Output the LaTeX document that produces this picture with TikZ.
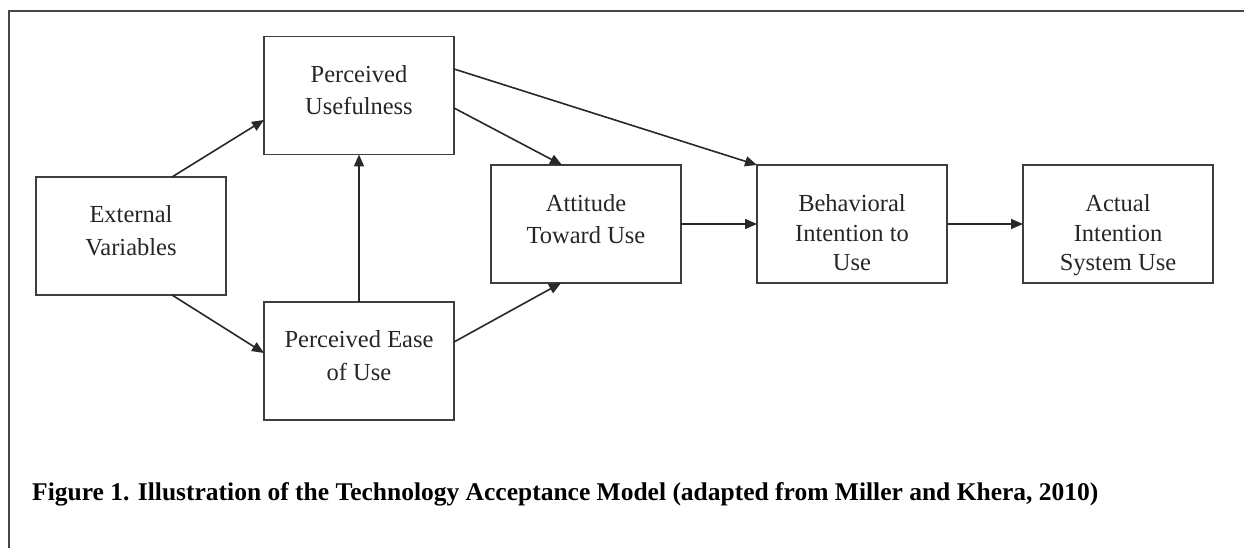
\documentclass[tikz,border=0pt]{standalone}
\usepackage{fontspec}
\setmainfont{Liberation Serif}
\usetikzlibrary{arrows.meta}
\definecolor{boxcol}{RGB}{62,62,62}
\definecolor{arrcol}{RGB}{40,40,40}
\definecolor{txtcol}{RGB}{38,38,38}
\definecolor{framecol}{RGB}{70,70,70}
\begin{document}
\begin{tikzpicture}[x=1pt,y=-1pt,
  box/.style={draw=boxcol, line width=1.6pt, minimum width=190pt, minimum height=118pt, inner sep=0pt, outer sep=0pt},
  lbl/.style={align=center, inner sep=0pt, text=txtcol, font=\fontsize{24.5}{32.5}\selectfont},
  lblthree/.style={align=center, inner sep=0pt, text=txtcol, font=\fontsize{24.5}{29.5}\selectfont},
  arr/.style={draw=arrcol, line width=1.6pt, -{Triangle[length=12pt,width=10pt]}},
  captionstyle/.style={inner sep=0pt, text=black, font=\bfseries\fontsize{25.5}{30}\selectfont},
]
\useasboundingbox (0,0) rectangle (1244,548);
\fill[white] (0,0) rectangle (1244,548);
\draw[framecol, line width=2pt] (1244,11) -- (9,11) -- (9,548);

% boxes
\node[box] (pu)   at (359,95.5) {};
\node[box] (ev)   at (131,236) {};
\node[box] (peou) at (359,361) {};
\node[box] (atu)  at (586,224) {};
\node[box] (bi)   at (852,224) {};
\node[box] (aisu) at (1118,224) {};

% labels
\node[lbl] (tpu)   at (359,90.2) {Perceived\\Usefulness};
\node[lbl] (tev)   at (131,230.5) {External\\Variables};
\node[lbl] (tpeou) at (359,355.8) {Perceived Ease\\of Use};
\node[lbl] (tatu)  at (586,219) {Attitude\\Toward Use};
\node[lblthree] (tbi)   at (852,232.8) {Behavioral\\Intention to\\Use};
\node[lblthree] (taisu) at (1118,235.5) {Actual\\Intention\\System Use};

% connectors
\draw[arr] ([xshift=41pt]ev.north) -- ([yshift=-24.5pt]pu.west);
\draw[arr] ([xshift=41pt]ev.south) -- ([yshift=8pt]peou.west);
\draw[arr] (peou.north) -- (pu.south);
\draw[arr] ([yshift=-12.5pt]pu.east) -- ([xshift=-24pt]atu.north);
\draw[arr] ([yshift=26.5pt]pu.east) -- (bi.north west);
\draw[arr] ([yshift=19pt]peou.east) -- ([xshift=-25pt]atu.south);
\draw[arr] (atu.east) -- (bi.west);
\draw[arr] (bi.east) -- (aisu.west);

% caption
\node[captionstyle, anchor=base west] (cap) at (32,500) {Figure 1. Illustration of the Technology Acceptance Model (adapted from Miller and Khera, 2010)};
\end{tikzpicture}
\end{document}
